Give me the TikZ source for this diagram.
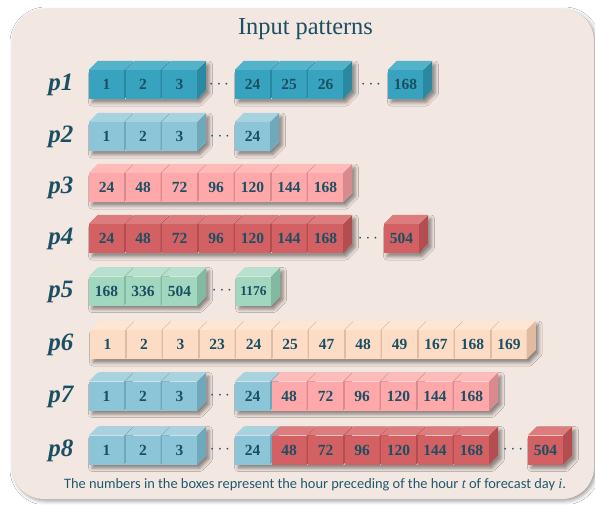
\documentclass[tikz,border=0pt]{standalone}
\usepackage{fontspec}
\setmainfont{Liberation Serif}
\newfontfamily\capfont{Carlito}
\usetikzlibrary{shadows.blur}
\definecolor{bgc}{HTML}{F3E7E1}
\definecolor{txt}{HTML}{1B4F63}
\definecolor{capc}{HTML}{1F5A6E}
% teal
\definecolor{tlf}{HTML}{38A3BE}\definecolor{tlt}{HTML}{52B3CA}\definecolor{tls}{HTML}{2A88A1}
% light blue
\definecolor{lbf}{HTML}{8CC4D8}\definecolor{lbt}{HTML}{A7D3E1}\definecolor{lbs}{HTML}{70A8BB}
% pink
\definecolor{pkf}{HTML}{FFA8AA}\definecolor{pkt}{HTML}{FFBABA}\definecolor{pks}{HTML}{D98A8D}
% dark red
\definecolor{drf}{HTML}{D36062}\definecolor{drt}{HTML}{DD7C7D}\definecolor{drs}{HTML}{B34D50}
% green
\definecolor{gnf}{HTML}{A2D7BF}\definecolor{gnt}{HTML}{B7E1CE}\definecolor{gns}{HTML}{84B9A1}
% peach
\definecolor{pcf}{HTML}{FDDCC5}\definecolor{pct}{HTML}{FEE6D3}\definecolor{pcs}{HTML}{E0BB9F}
\tikzset{
  cubef/.style={rectangle, minimum width=35pt, minimum height=29pt, inner sep=0pt,
    text=txt, font=\fontsize{15.5}{15.5}\selectfont\bfseries},
  rowlab/.style={text=txt, font=\fontsize{25}{25}\selectfont\bfseries\itshape},
  dotsn/.style={text=txt, font=\fontsize{18}{18}\selectfont},
  segshadow/.style={fill=bgc, blur shadow={shadow xshift=3pt, shadow yshift=-3.5pt,
    shadow blur radius=3.5pt, shadow opacity=45}}
}
% name, left x, centre y, colour prefix, text
\newcommand\cb[5]{%
  \node[cubef, fill=#4f] (#1) at (#2+17.5,#3) {#5};
  \fill[#4t] (#1.north west) -- ++(9,-9) -- ++(35,0) -- (#1.north east) -- cycle;
  \fill[#4s] (#1.north east) -- ++(9,-9) -- ++(0,29) -- (#1.south east) -- cycle;
}
% shadow of a segment: first left x, last right x, centre y
\newcommand\sh[3]{%
  \path[segshadow] (#1,#3-14.5) -- (#1+9,#3-23.5) -- (#2+9,#3-23.5) -- (#2+9,#3+5.5)
    -- (#2,#3+14.5) -- (#1,#3+14.5) -- cycle;
}
\begin{document}
\begin{tikzpicture}[x=1pt,y=-1pt]
\useasboundingbox (0,0) rectangle (595,504);
\fill[white] (0,0) rectangle (595,504);
\fill[bgc, rounded corners=32pt, blur shadow={shadow xshift=2pt, shadow yshift=-2pt,
  shadow blur radius=4pt, shadow opacity=40}] (12,9) rectangle (594,499);

\node[text=txt, font=\fontsize{24.4}{26}\selectfont] (title) at (305.5,29) {Input patterns};

% row labels
\node[rowlab] (p1) at (61,85) {p1};
\node[rowlab] (p2) at (61,137) {p2};
\node[rowlab] (p3) at (61,188) {p3};
\node[rowlab] (p4) at (61,239) {p4};
\node[rowlab] (p5) at (61,291.5) {p5};
\node[rowlab] (p6) at (61,345) {p6};
\node[rowlab] (p7) at (61,396.5) {p7};
\node[rowlab] (p8) at (61,450.5) {p8};

% shadows
\sh{89}{197}{84.5}\sh{235}{343}{84.5}\sh{388}{423}{84.5}
\sh{89}{197}{136.5}\sh{235}{270}{136.5}
\sh{89}{343}{187.5}
\sh{89}{343}{238.5}\sh{384}{419}{238.5}
\sh{89}{197}{291}\sh{236}{271}{291}
\sh{90}{526.5}{344.5}
\sh{89}{197}{396}\sh{235}{489}{396}
\sh{89}{197}{450}\sh{235}{489}{450}\sh{528}{563}{450}

% p1
\cb{a1}{89}{84.5}{tl}{1}\cb{a2}{125.5}{84.5}{tl}{2}\cb{a3}{162}{84.5}{tl}{3}
\node[dotsn] (ad1) at (219,84.5) {$\cdots$};
\cb{a4}{235}{84.5}{tl}{24}\cb{a5}{271.5}{84.5}{tl}{25}\cb{a6}{308}{84.5}{tl}{26}
\node[dotsn] (ad2) at (371,84.5) {$\cdots$};
\cb{a7}{388}{84.5}{tl}{168}

% p2
\cb{b1}{89}{136.5}{lb}{1}\cb{b2}{125.5}{136.5}{lb}{2}\cb{b3}{162}{136.5}{lb}{3}
\node[dotsn] (bd1) at (220,136.5) {$\cdots$};
\cb{b4}{235}{136.5}{lb}{24}

% p3
\cb{c1}{89}{187.5}{pk}{24}\cb{c2}{125.5}{187.5}{pk}{48}\cb{c3}{162}{187.5}{pk}{72}
\cb{c4}{198.5}{187.5}{pk}{96}\cb{c5}{235}{187.5}{pk}{120}\cb{c6}{271.5}{187.5}{pk}{144}
\cb{c7}{308}{187.5}{pk}{168}

% p4
\cb{d1}{89}{238.5}{dr}{24}\cb{d2}{125.5}{238.5}{dr}{48}\cb{d3}{162}{238.5}{dr}{72}
\cb{d4}{198.5}{238.5}{dr}{96}\cb{d5}{235}{238.5}{dr}{120}\cb{d6}{271.5}{238.5}{dr}{144}
\cb{d7}{308}{238.5}{dr}{168}
\node[dotsn] (dd1) at (368,238.5) {$\cdots$};
\cb{d8}{384}{238.5}{dr}{504}

% p5
\cb{e1}{89}{291}{gn}{168}\cb{e2}{125.5}{291}{gn}{336}\cb{e3}{162}{291}{gn}{504}
\node[dotsn] (ed1) at (222,291) {$\cdots$};
\cb{e4}{236}{291}{gn}{{\fontsize{13.5}{13.5}\selectfont 1176}}

% p6
\cb{f1}{90}{344.5}{pc}{1}\cb{f2}{126.5}{344.5}{pc}{2}\cb{f3}{163}{344.5}{pc}{3}
\cb{f4}{199.5}{344.5}{pc}{23}\cb{f5}{236}{344.5}{pc}{24}\cb{f6}{272.5}{344.5}{pc}{25}
\cb{f7}{309}{344.5}{pc}{47}\cb{f8}{345.5}{344.5}{pc}{48}\cb{f9}{382}{344.5}{pc}{49}
\cb{f10}{418.5}{344.5}{pc}{167}\cb{f11}{455}{344.5}{pc}{168}\cb{f12}{491.5}{344.5}{pc}{169}

% p7
\cb{g1}{89}{396}{lb}{1}\cb{g2}{125.5}{396}{lb}{2}\cb{g3}{162}{396}{lb}{3}
\node[dotsn] (gd1) at (220,396) {$\cdots$};
\cb{g4}{235}{396}{lb}{24}
\cb{g5}{271.5}{396}{pk}{48}\cb{g6}{308}{396}{pk}{72}\cb{g7}{344.5}{396}{pk}{96}
\cb{g8}{381}{396}{pk}{120}\cb{g9}{417.5}{396}{pk}{144}\cb{g10}{454}{396}{pk}{168}

% p8
\cb{h1}{89}{450}{lb}{1}\cb{h2}{125.5}{450}{lb}{2}\cb{h3}{162}{450}{lb}{3}
\node[dotsn] (hd1) at (220,450) {$\cdots$};
\cb{h4}{235}{450}{lb}{24}
\cb{h5}{271.5}{450}{dr}{48}\cb{h6}{308}{450}{dr}{72}\cb{h7}{344.5}{450}{dr}{96}
\cb{h8}{381}{450}{dr}{120}\cb{h9}{417.5}{450}{dr}{144}\cb{h10}{454}{450}{dr}{168}
\node[dotsn] (hd2) at (513,450) {$\cdots$};
\cb{h11}{528}{450}{dr}{504}

\node[text=capc, font=\capfont\fontsize{14.4}{16}\selectfont] (cap) at (315,485)
  {The numbers in the boxes represent the hour preceding of the hour {\rmfamily\itshape t} of forecast day {\rmfamily\itshape i}.};
\end{tikzpicture}
\end{document}
